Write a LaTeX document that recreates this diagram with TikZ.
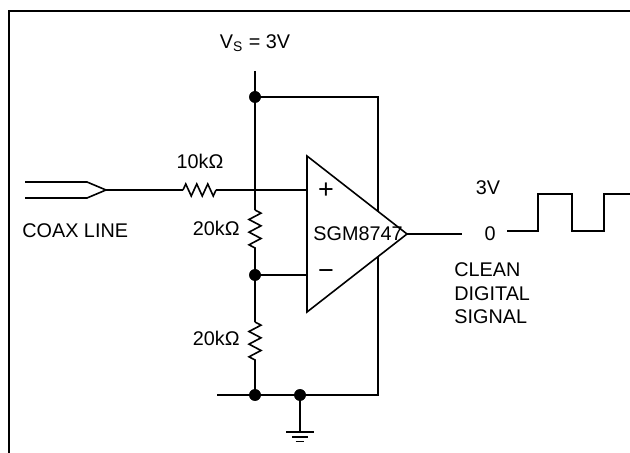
\documentclass[tikz,border=0pt]{standalone}
\usepackage{fontspec}
\setmainfont{Liberation Sans}
\usetikzlibrary{decorations.pathmorphing}
\tikzstyle{Wire}=[black,line width=0.8pt,line join=miter]
\tikzstyle{Dot}=[circle,fill=black,inner sep=0pt,minimum size=5.8pt]
\tikzstyle{ResH}=[Wire,decorate,decoration={zigzag,segment length=5.5pt,amplitude=3pt}]
\tikzstyle{ResV}=[Wire,decorate,decoration={zigzag,segment length=6.33pt,amplitude=3pt}]
\tikzstyle{Txt}=[inner sep=0pt,font=\fontsize{9.9}{11.75}\selectfont]
\tikzstyle{Sign}=[inner sep=0pt,font=\fontsize{13.5}{13.5}\selectfont]

\begin{document}
\begin{tikzpicture}[x=0.5pt,y=-0.5pt]
  \useasboundingbox (0,0) rectangle (630,453);
  % frame
  \draw[Wire] (9,453)--(9,11)--(630,11);
  % points
  \coordinate (vs) at (255,71);
  \coordinate (tip) at (106,190);
  \coordinate (rinA) at (183,190);
  \coordinate (rinB) at (216,190);
  \coordinate (r1a) at (255,210);
  \coordinate (r1b) at (255,248);
  \coordinate (r2a) at (255,322);
  \coordinate (r2b) at (255,360);
  \coordinate (inp) at (307,190);
  \coordinate (inm) at (307,275);
  \coordinate (oaT) at (307,156);
  \coordinate (oaB) at (307,312);
  \coordinate (out) at (407,234);
  \coordinate (outEnd) at (462,234);
  \coordinate (rtop) at (378,97);
  \coordinate (rbot) at (378,395);
  \coordinate (bl) at (217,395);
  \coordinate (gnd) at (300,432);
  \node[Dot](Ntop)at(255,97){};
  \node[Dot](Nmid)at(255,275){};
  \node[Dot](Nbot)at(255,395){};
  \node[Dot](Ngnd)at(300,395){};
  % coax line
  \draw[Wire] (25,182)--(87,182)--(tip)--(87,198)--(25,198);
  \draw[Wire] (tip)--(rinA);
  \draw[ResH] (rinA)--(rinB);
  \draw[Wire] (rinB)--(inp);
  % divider
  \draw[Wire] (vs)--(Ntop.center)--(r1a);
  \draw[ResV] (r1a)--(r1b);
  \draw[Wire] (r1b)--(Nmid.center)--(r2a);
  \draw[ResV] (r2a)--(r2b);
  \draw[Wire] (r2b)--(Nbot.center);
  \draw[Wire] (Nmid.center)--(inm);
  % supply loop
  \draw[Wire] (Ntop.center)--(rtop)--(rbot)--(Ngnd.center);
  \draw[Wire] (bl)--(Ngnd.center);
  % ground
  \draw[Wire] (Ngnd.center)--(gnd);
  \draw[Wire] ([xshift=-7pt]gnd)--([xshift=7pt]gnd);
  \draw[Wire] ([xshift=-4pt,yshift=-2.4pt]gnd)--([xshift=4pt,yshift=-2.4pt]gnd);
  \draw[Wire] ([xshift=-2.2pt,yshift=-4.8pt]gnd)--([xshift=2.2pt,yshift=-4.8pt]gnd);
  % op amp
  \draw[Wire,fill=white] (oaT)--(out)--(oaB)--cycle;
  \draw[Wire] (out)--(outEnd);
  \node[Dot]at(Ntop){};
  \node[Dot]at(Nmid){};
  \node[Dot]at(Nbot){};
  \node[Dot]at(Ngnd){};
  \node[Sign](plus)at(326,191){+};
  \node[Sign](minus)at(326,275){−};
  \node[Txt](amp)at(358,234){SGM8747};
  % output waveform
  \draw[Wire] (507,231)--(538,231)--(538,194)--(572,194)--(572,231)--(604,231)--(604,194)--(630,194);
  % labels
  \node[Txt,anchor=base](vsl)at(255,49){V\textsubscript{S} = 3V};
  \node[Txt,anchor=base](rinl)at(200,169){10kΩ};
  \node[Txt,anchor=base east](r1l)at(240,236){20kΩ};
  \node[Txt,anchor=base east](r2l)at(240,345){20kΩ};
  \node[Txt,anchor=base west](coax)at(22,238){COAX LINE};
  \node[Txt,anchor=base](hi)at(488,195){3V};
  \node[Txt,anchor=base](lo)at(490,241){0};
  \node[Txt,anchor=base west](c1)at(454,277){CLEAN};
  \node[Txt,anchor=base west](c2)at(454,300.5){DIGITAL};
  \node[Txt,anchor=base west](c3)at(454,324){SIGNAL};
\end{tikzpicture}
\end{document}
